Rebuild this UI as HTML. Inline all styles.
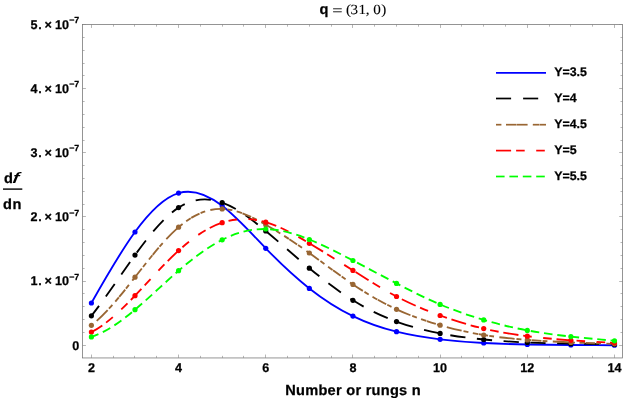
<!DOCTYPE html>
<html><head><meta charset="utf-8"><title>plot</title>
<style>
html,body{margin:0;padding:0;background:#fff;}
body{width:623px;height:398px;overflow:hidden;}
svg{display:block;will-change:transform;}
text{font-family:"Liberation Sans",sans-serif;fill:#000;text-rendering:geometricPrecision;stroke:#000;stroke-width:0.25px;stroke-linejoin:round;}
.b12{font-weight:bold;font-size:12px;}
.bt{font-weight:bold;font-size:12.6px;}
.bl{font-weight:bold;font-size:12.4px;}
.b8{font-weight:bold;font-size:8.9px;}
.b14{font-weight:bold;font-size:14.6px;}
.s14{font-family:"Liberation Serif",serif;font-size:14px;stroke-width:0.1px;}
</style></head><body>
<svg width="623" height="398" viewBox="0 0 623 398">
<rect width="623" height="398" fill="#fff"/>
<rect x="82.5" y="24.55" width="540.1" height="333.4" fill="none" stroke="#727272" stroke-width="0.75"/>
<path d="M82.5,345.50h3.4 M622.6,345.50h-3.4 M82.5,332.50h2.1 M622.6,332.50h-2.1 M82.5,319.50h2.1 M622.6,319.50h-2.1 M82.5,306.50h2.1 M622.6,306.50h-2.1 M82.5,293.50h2.1 M622.6,293.50h-2.1 M82.5,281.50h3.4 M622.6,281.50h-3.4 M82.5,268.50h2.1 M622.6,268.50h-2.1 M82.5,255.50h2.1 M622.6,255.50h-2.1 M82.5,242.50h2.1 M622.6,242.50h-2.1 M82.5,229.50h2.1 M622.6,229.50h-2.1 M82.5,216.50h3.4 M622.6,216.50h-3.4 M82.5,204.50h2.1 M622.6,204.50h-2.1 M82.5,191.50h2.1 M622.6,191.50h-2.1 M82.5,178.50h2.1 M622.6,178.50h-2.1 M82.5,165.50h2.1 M622.6,165.50h-2.1 M82.5,152.50h3.4 M622.6,152.50h-3.4 M82.5,140.50h2.1 M622.6,140.50h-2.1 M82.5,127.50h2.1 M622.6,127.50h-2.1 M82.5,114.50h2.1 M622.6,114.50h-2.1 M82.5,101.50h2.1 M622.6,101.50h-2.1 M82.5,88.50h3.4 M622.6,88.50h-3.4 M82.5,75.50h2.1 M622.6,75.50h-2.1 M82.5,63.50h2.1 M622.6,63.50h-2.1 M82.5,50.50h2.1 M622.6,50.50h-2.1 M82.5,37.50h2.1 M622.6,37.50h-2.1 M82.5,24.50h3.4 M622.6,24.50h-3.4 M91.50,357.95v-3.4 M91.50,24.55v3.4 M113.50,357.95v-2.1 M113.50,24.55v2.1 M134.50,357.95v-2.1 M134.50,24.55v2.1 M156.50,357.95v-2.1 M156.50,24.55v2.1 M178.50,357.95v-3.4 M178.50,24.55v3.4 M200.50,357.95v-2.1 M200.50,24.55v2.1 M222.50,357.95v-2.1 M222.50,24.55v2.1 M243.50,357.95v-2.1 M243.50,24.55v2.1 M265.50,357.95v-3.4 M265.50,24.55v3.4 M287.50,357.95v-2.1 M287.50,24.55v2.1 M309.50,357.95v-2.1 M309.50,24.55v2.1 M331.50,357.95v-2.1 M331.50,24.55v2.1 M352.50,357.95v-3.4 M352.50,24.55v3.4 M374.50,357.95v-2.1 M374.50,24.55v2.1 M396.50,357.95v-2.1 M396.50,24.55v2.1 M418.50,357.95v-2.1 M418.50,24.55v2.1 M440.50,357.95v-3.4 M440.50,24.55v3.4 M461.50,357.95v-2.1 M461.50,24.55v2.1 M483.50,357.95v-2.1 M483.50,24.55v2.1 M505.50,357.95v-2.1 M505.50,24.55v2.1 M527.50,357.95v-3.4 M527.50,24.55v3.4 M549.50,357.95v-2.1 M549.50,24.55v2.1 M570.50,357.95v-2.1 M570.50,24.55v2.1 M592.50,357.95v-2.1 M592.50,24.55v2.1 M614.50,357.95v-3.4 M614.50,24.55v3.4" stroke="#858585" stroke-width="0.6" fill="none"/>
<path d="M91.40,303.00 C105.93,277.25 120.46,251.95 134.99,232.00 C149.52,212.05 164.05,197.45 178.58,193.10 C193.11,188.75 207.64,194.67 222.17,205.80 C236.70,216.93 251.23,233.29 265.76,248.30 C280.29,263.31 294.82,276.97 309.35,288.40 C323.88,299.83 338.41,309.03 352.94,316.10 C367.47,323.17 382.00,328.10 396.53,331.70 C411.06,335.30 425.59,337.58 440.12,339.30 C454.65,341.02 469.18,342.20 483.71,343.00 C498.24,343.80 512.77,344.22 527.30,344.50 C541.83,344.78 556.36,344.91 570.89,345.00 C585.42,345.09 599.95,345.12 614.48,345.20" fill="none" stroke="#0000ff" stroke-width="1.85"/>
<g fill="#0000ff"><circle cx="91.40" cy="303.00" r="2.6"/><circle cx="134.99" cy="232.00" r="2.6"/><circle cx="178.58" cy="193.10" r="2.6"/><circle cx="222.17" cy="205.80" r="2.6"/><circle cx="265.76" cy="248.30" r="2.6"/><circle cx="309.35" cy="288.40" r="2.6"/><circle cx="352.94" cy="316.10" r="2.6"/><circle cx="396.53" cy="331.70" r="2.6"/><circle cx="440.12" cy="339.30" r="2.6"/><circle cx="483.71" cy="343.00" r="2.6"/><circle cx="527.30" cy="344.50" r="2.6"/><circle cx="570.89" cy="345.00" r="2.6"/><circle cx="614.48" cy="345.20" r="2.6"/></g>
<path d="M91.40,315.80 C105.93,297.62 120.46,275.26 134.99,255.10 C149.52,234.94 164.05,216.98 178.58,207.60 C193.11,198.22 207.64,197.43 222.17,202.60 C236.70,207.77 251.23,218.91 265.76,231.00 C280.29,243.09 294.82,256.15 309.35,268.20 C323.88,280.25 338.41,291.29 352.94,300.30 C367.47,309.31 382.00,316.27 396.53,321.60 C411.06,326.93 425.59,330.61 440.12,333.40 C454.65,336.19 469.18,338.08 483.71,339.50 C498.24,340.92 512.77,341.86 527.30,342.50 C541.83,343.14 556.36,343.46 570.89,343.70 C585.42,343.94 599.95,344.10 614.48,344.40" fill="none" stroke="#000000" stroke-width="1.85" stroke-dasharray="15.3 11.5" stroke-dashoffset="2.7"/>
<g fill="#000000"><circle cx="91.40" cy="315.80" r="2.6"/><circle cx="134.99" cy="255.10" r="2.6"/><circle cx="178.58" cy="207.60" r="2.6"/><circle cx="222.17" cy="202.60" r="2.6"/><circle cx="265.76" cy="231.00" r="2.6"/><circle cx="309.35" cy="268.20" r="2.6"/><circle cx="352.94" cy="300.30" r="2.6"/><circle cx="396.53" cy="321.60" r="2.6"/><circle cx="440.12" cy="333.40" r="2.6"/><circle cx="483.71" cy="339.50" r="2.6"/><circle cx="527.30" cy="342.50" r="2.6"/><circle cx="570.89" cy="343.70" r="2.6"/><circle cx="614.48" cy="344.40" r="2.6"/></g>
<path d="M91.40,325.30 C105.93,314.03 120.46,295.77 134.99,277.20 C149.52,258.63 164.05,239.74 178.58,227.20 C193.11,214.66 207.64,208.47 222.17,208.90 C236.70,209.33 251.23,216.38 265.76,224.70 C280.29,233.02 294.82,242.60 309.35,253.00 C323.88,263.40 338.41,274.60 352.94,284.40 C367.47,294.20 382.00,302.59 396.53,309.30 C411.06,316.01 425.59,321.04 440.12,325.20 C454.65,329.36 469.18,332.64 483.71,335.00 C498.24,337.36 512.77,338.79 527.30,339.90 C541.83,341.01 556.36,341.80 570.89,342.40 C585.42,343.00 599.95,343.42 614.48,343.80" fill="none" stroke="#996633" stroke-width="1.85" stroke-dasharray="15.3 1.9 5 4.5 5.5 0.6 9.4 1.2 4.8 5.4" stroke-dashoffset="46.5"/>
<g fill="#996633"><circle cx="91.40" cy="325.30" r="2.6"/><circle cx="134.99" cy="277.20" r="2.6"/><circle cx="178.58" cy="227.20" r="2.6"/><circle cx="222.17" cy="208.90" r="2.6"/><circle cx="265.76" cy="224.70" r="2.6"/><circle cx="309.35" cy="253.00" r="2.6"/><circle cx="352.94" cy="284.40" r="2.6"/><circle cx="396.53" cy="309.30" r="2.6"/><circle cx="440.12" cy="325.20" r="2.6"/><circle cx="483.71" cy="335.00" r="2.6"/><circle cx="527.30" cy="339.90" r="2.6"/><circle cx="570.89" cy="342.40" r="2.6"/><circle cx="614.48" cy="343.80" r="2.6"/></g>
<path d="M91.40,332.10 C105.93,324.66 120.46,310.91 134.99,295.70 C149.52,280.49 164.05,263.84 178.58,250.60 C193.11,237.36 207.64,227.54 222.17,222.70 C236.70,217.86 251.23,218.02 265.76,222.20 C280.29,226.38 294.82,234.60 309.35,243.30 C323.88,252.00 338.41,261.19 352.94,270.40 C367.47,279.61 382.00,288.84 396.53,296.50 C411.06,304.16 425.59,310.24 440.12,315.50 C454.65,320.76 469.18,325.20 483.71,328.60 C498.24,332.00 512.77,334.38 527.30,336.20 C541.83,338.02 556.36,339.29 570.89,340.30 C585.42,341.31 599.95,342.04 614.48,342.80" fill="none" stroke="#ff0000" stroke-width="1.85" stroke-dasharray="15.3 4.8 8.6 11.5 8.6 4.8" stroke-dashoffset="2.5"/>
<g fill="#ff0000"><circle cx="91.40" cy="332.10" r="2.6"/><circle cx="134.99" cy="295.70" r="2.6"/><circle cx="178.58" cy="250.60" r="2.6"/><circle cx="222.17" cy="222.70" r="2.6"/><circle cx="265.76" cy="222.20" r="2.6"/><circle cx="309.35" cy="243.30" r="2.6"/><circle cx="352.94" cy="270.40" r="2.6"/><circle cx="396.53" cy="296.50" r="2.6"/><circle cx="440.12" cy="315.50" r="2.6"/><circle cx="483.71" cy="328.60" r="2.6"/><circle cx="527.30" cy="336.20" r="2.6"/><circle cx="570.89" cy="340.30" r="2.6"/><circle cx="614.48" cy="342.80" r="2.6"/></g>
<path d="M91.40,336.90 C105.93,332.19 120.46,321.93 134.99,309.70 C149.52,297.47 164.05,283.28 178.58,270.70 C193.11,258.12 207.64,247.15 222.17,239.80 C236.70,232.45 251.23,228.71 265.76,229.00 C280.29,229.29 294.82,233.60 309.35,239.50 C323.88,245.40 338.41,252.88 352.94,260.50 C367.47,268.12 382.00,275.87 396.53,283.40 C411.06,290.93 425.59,298.23 440.12,304.40 C454.65,310.57 469.18,315.62 483.71,319.90 C498.24,324.18 512.77,327.69 527.30,330.40 C541.83,333.11 556.36,335.02 570.89,336.60 C585.42,338.18 599.95,339.42 614.48,340.80" fill="none" stroke="#00ff00" stroke-width="1.85" stroke-dasharray="8.6 4.8" stroke-dashoffset="1.0"/>
<g fill="#00ff00"><circle cx="91.40" cy="336.90" r="2.6"/><circle cx="134.99" cy="309.70" r="2.6"/><circle cx="178.58" cy="270.70" r="2.6"/><circle cx="222.17" cy="239.80" r="2.6"/><circle cx="265.76" cy="229.00" r="2.6"/><circle cx="309.35" cy="239.50" r="2.6"/><circle cx="352.94" cy="260.50" r="2.6"/><circle cx="396.53" cy="283.40" r="2.6"/><circle cx="440.12" cy="304.40" r="2.6"/><circle cx="483.71" cy="319.90" r="2.6"/><circle cx="527.30" cy="330.40" r="2.6"/><circle cx="570.89" cy="336.60" r="2.6"/><circle cx="614.48" cy="340.80" r="2.6"/></g>
<line x1="496.0" y1="72.9" x2="546.0" y2="72.9" stroke="#0000ff" stroke-width="1.7"/>
<line x1="496.0" y1="98.5" x2="511.1" y2="98.5" stroke="#000000" stroke-width="1.7"/><line x1="523.1" y1="98.5" x2="538.2" y2="98.5" stroke="#000000" stroke-width="1.7"/>
<line x1="496.0" y1="124.7" x2="501.4" y2="124.7" stroke="#996633" stroke-width="1.7"/><line x1="506.0" y1="124.7" x2="516.6" y2="124.7" stroke="#996633" stroke-width="1.7"/><line x1="516.9" y1="124.7" x2="527.6" y2="124.7" stroke="#996633" stroke-width="1.7"/><line x1="532.8" y1="124.7" x2="539.3" y2="124.7" stroke="#996633" stroke-width="1.7"/><line x1="539.6" y1="124.7" x2="546.0" y2="124.7" stroke="#996633" stroke-width="1.7"/>
<line x1="496.0" y1="150.6" x2="511.1" y2="150.6" stroke="#ff0000" stroke-width="1.7"/><line x1="516.1" y1="150.6" x2="524.7" y2="150.6" stroke="#ff0000" stroke-width="1.7"/><line x1="536.2" y1="150.6" x2="544.8" y2="150.6" stroke="#ff0000" stroke-width="1.7"/>
<line x1="496.0" y1="176.5" x2="504.6" y2="176.5" stroke="#00ff00" stroke-width="1.7"/><line x1="509.4" y1="176.5" x2="518.0" y2="176.5" stroke="#00ff00" stroke-width="1.7"/><line x1="522.8" y1="176.5" x2="531.4" y2="176.5" stroke="#00ff00" stroke-width="1.7"/><line x1="536.2" y1="176.5" x2="544.8" y2="176.5" stroke="#00ff00" stroke-width="1.7"/>
<text x="554.2" y="76.3" class="bl">Y=3.5</text>
<text x="554.2" y="101.9" class="bl">Y=4</text>
<text x="554.2" y="128.1" class="bl">Y=4.5</text>
<text x="554.2" y="154.0" class="bl">Y=5</text>
<text x="554.2" y="179.9" class="bl">Y=5.5</text>
<text x="30.4" y="285.4" class="bt">1</text>
<text x="38.2" y="285.4" class="bt">.</text>
<text x="44.6" y="285.4" class="bt">×</text>
<text x="55.1" y="285.4" class="bt">10</text>
<text x="69.2" y="279.7" class="b8">−7</text>
<text x="30.4" y="221.3" class="bt">2</text>
<text x="38.2" y="221.3" class="bt">.</text>
<text x="44.6" y="221.3" class="bt">×</text>
<text x="55.1" y="221.3" class="bt">10</text>
<text x="69.2" y="215.6" class="b8">−7</text>
<text x="30.4" y="157.1" class="bt">3</text>
<text x="38.2" y="157.1" class="bt">.</text>
<text x="44.6" y="157.1" class="bt">×</text>
<text x="55.1" y="157.1" class="bt">10</text>
<text x="69.2" y="151.4" class="b8">−7</text>
<text x="30.4" y="93.0" class="bt">4</text>
<text x="38.2" y="93.0" class="bt">.</text>
<text x="44.6" y="93.0" class="bt">×</text>
<text x="55.1" y="93.0" class="bt">10</text>
<text x="69.2" y="87.3" class="b8">−7</text>
<text x="30.4" y="28.9" class="bt">5</text>
<text x="38.2" y="28.9" class="bt">.</text>
<text x="44.6" y="28.9" class="bt">×</text>
<text x="55.1" y="28.9" class="bt">10</text>
<text x="69.2" y="23.2" class="b8">−7</text>
<text x="79.2" y="349.6" class="bt" text-anchor="end">0</text>
<text x="91.4" y="372.0" class="bt" text-anchor="middle">2</text>
<text x="178.6" y="372.0" class="bt" text-anchor="middle">4</text>
<text x="265.8" y="372.0" class="bt" text-anchor="middle">6</text>
<text x="352.9" y="372.0" class="bt" text-anchor="middle">8</text>
<text x="440.1" y="372.0" class="bt" text-anchor="middle">10</text>
<text x="527.3" y="372.0" class="bt" text-anchor="middle">12</text>
<text x="614.5" y="372.0" class="bt" text-anchor="middle">14</text>
<text x="353.1" y="394.8" class="b14" text-anchor="middle" letter-spacing="0.26">Number or rungs n</text>
<text x="3.9" y="183.2" class="b14">d</text>
<text transform="translate(12.0,183.4) skewX(-10) scale(1.28,1.05)" x="0" y="0" class="b14" font-style="italic" style="stroke-width:0">f</text>
<rect x="3" y="188.4" width="19.3" height="1.4" fill="#000"/>
<text x="3.0" y="209.2" class="b14">d</text><text x="12.6" y="209.2" class="b14">n</text>
<text x="319.6" y="14.1" class="b14">q</text>
<text transform="scale(1.08,1)" x="320.46" y="13.8" class="s14">(</text>
<text transform="scale(1.08,1)" x="324.63" y="13.8" class="s14">3</text>
<text transform="scale(1.08,1)" x="331.85" y="13.8" class="s14">1</text>
<text transform="scale(1.08,1)" x="338.70" y="13.8" class="s14">,</text>
<text transform="scale(1.08,1)" x="345.56" y="13.8" class="s14">0</text>
<text transform="scale(1.08,1)" x="353.06" y="13.8" class="s14">)</text>
<text transform="scale(1.3,1)" x="255.54" y="14.8" class="s14">=</text>
</svg>
</body></html>
